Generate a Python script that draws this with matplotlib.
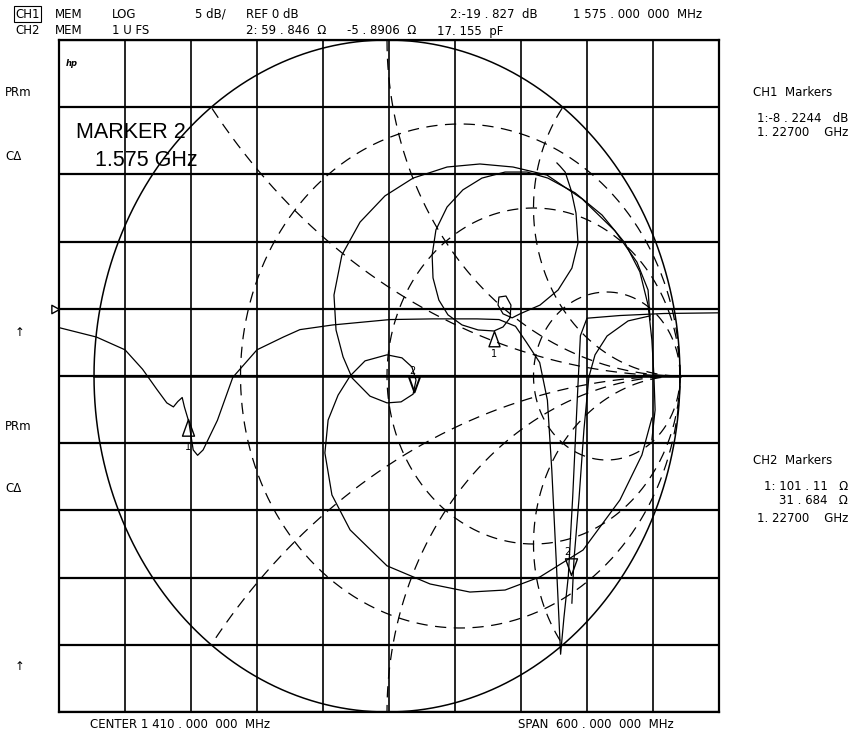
import numpy as np
import matplotlib.pyplot as plt
from matplotlib.path import Path

W, H = 854, 736

# CH1 : S11 log magnitude (MHz, dB)
ch1_freq = [1110, 1144, 1170, 1186, 1199, 1208, 1214, 1218, 1222, 1224, 1228,
            1232, 1236, 1241, 1254, 1268, 1290, 1314, 1329, 1359, 1411, 1450,
            1490, 1510, 1525, 1535, 1547, 1554, 1558, 1562, 1566, 1569, 1573,
            1577, 1581, 1584, 1590, 1620, 1660, 1710]
ch1_db = [-1.4, -2.1, -3.05, -4.5, -6.0, -7.0, -7.3, -6.9, -6.6, -7.3, -8.4,
          -10.5, -10.9, -10.5, -8.3, -5.1, -3.05, -2.1, -1.55, -1.2, -0.8, -0.75,
          -0.75, -0.8, -1.3, -2.5, -4.0, -6.8, -12.0, -18.7, -25.7, -23.0, -19.9,
          -14.0, -7.0, -2.0, -0.7, -0.5, -0.35, -0.3]
ch1_mk_freq = [1227.0, 1575.0]
ch1_mk_db = [-8.2244, -19.827]

# CH2 : S11 on the smith chart, reflection coefficient (re, im)
s2_a_re = [0.580, 0.590, 0.608, 0.628, 0.645, 0.652, 0.631, 0.584, 0.522, 0.454,
           0.427, 0.396, 0.379, 0.382, 0.406, 0.423, 0.420, 0.396, 0.365, 0.311,
           0.256, 0.208, 0.177, 0.157, 0.154, 0.167, 0.205, 0.259, 0.324, 0.403,
           0.478, 0.549, 0.642, 0.734, 0.812, 0.863, 0.891, 0.904, 0.911, 0.915,
           0.904]
s2_a_im = [0.634, 0.625, 0.607, 0.554, 0.485, 0.396, 0.321, 0.256, 0.211, 0.185,
           0.173, 0.185, 0.211, 0.235, 0.238, 0.211, 0.173, 0.146, 0.134, 0.137,
           0.152, 0.182, 0.226, 0.292, 0.360, 0.435, 0.503, 0.554, 0.589, 0.607,
           0.607, 0.589, 0.545, 0.479, 0.396, 0.310, 0.211, 0.107, 0.0, -0.101,
           -0.190]
s2_b_re = [0.898, 0.891, 0.853, 0.778, 0.666, 0.546, 0.430, 0.317, 0.205, 0.089,
           -0.007, -0.092, -0.154, -0.181, -0.174, -0.150, -0.119, -0.058, 0.0,
           0.048, 0.089, 0.099, 0.085, 0.051, 0.0, -0.075, -0.126, -0.167, -0.201,
           -0.212, -0.188, -0.126, 0.0, 0.147, 0.283, 0.403, 0.522, 0.669, 0.795,
           0.870, 0.904]
s2_b_im = [0.167, 0.256, 0.339, 0.432, 0.527, 0.598, 0.622, 0.631, 0.622, 0.589,
           0.536, 0.458, 0.360, 0.241, 0.137, 0.057, -0.006, -0.060, -0.080,
           -0.077, -0.054, -0.012, 0.027, 0.054, 0.063, 0.045, 0.0, -0.057, -0.131,
           -0.229, -0.354, -0.458, -0.565, -0.619, -0.643, -0.637, -0.598, -0.518,
           -0.369, -0.235, -0.125]
s2_c_re = [0.898, 0.823, 0.751, 0.710, 0.689, 0.672, 0.655, 0.638, 0.631]
s2_c_im = [0.179, 0.164, 0.119, 0.063, -0.003, -0.161, -0.369, -0.548, -0.676]

# CH2 marker readouts (ohm)
z0 = 50.0
mk_r = [101.11, 59.846]
mk_x = [31.684, -5.8906]

# smith graticule
r_circles = [1 / 3, 1.0, 3.0]
x_arcs = [0.5, 1.0, 2.0, -0.5, -1.0, -2.0]


def px(x, y):
    # pixel position -> figure fraction
    return x / W, 1 - y / H


def tri(direction):
    # apex at the origin, so the apex sits on the trace
    if direction == 'up':
        v = [(0, 0), (-0.36, -1), (0.36, -1), (0, 0)]
    elif direction == 'down':
        v = [(0, 0), (-0.36, 1), (0.36, 1), (0, 0)]
    else:
        v = [(0, 0), (-1, 0.55), (-1, -0.55), (0, 0)]
    return Path(v, [Path.MOVETO, Path.LINETO, Path.LINETO, Path.CLOSEPOLY])


fig = plt.figure(figsize=(W / 100, H / 100), dpi=100)
box = [59 / W, 1 - 712 / H, 660 / W, 672 / H]

# ---- CH1 grid and trace
ax = fig.add_axes(box)
ax.set_xlim(1110, 1710)
ax.set_ylim(-30, 20)
ax.set_xticks(np.arange(1110, 1711, 60))
ax.set_yticks(np.arange(-30, 21, 5))
ax.tick_params(length=0, labelbottom=False, labelleft=False)
ax.grid(True, color='black', lw=1.2)
ax.yaxis.grid(True, color='black', lw=1.6)
for s in ax.spines.values():
    s.set_linewidth(1.6)
ax.plot(ch1_freq, ch1_db, color='black', lw=0.9)
ax.plot(ch1_mk_freq[0], ch1_mk_db[0], marker=tri('up'), ms=24, mfc='none',
        mec='black', mew=1.0)
ax.plot(ch1_mk_freq[1], ch1_mk_db[1], marker=tri('down'), ms=24, mfc='none',
        mec='black', mew=1.0)
ax.annotate('1', (ch1_mk_freq[0], ch1_mk_db[0]), xytext=(0, -16),
            textcoords='offset points', ha='center', va='top', fontsize=7)
ax.annotate('2', (ch1_mk_freq[1], ch1_mk_db[1]), xytext=(-2, 13),
            textcoords='offset points', ha='center', va='bottom', fontsize=7)
# reference position
ax.plot(1110, 0, marker=tri('right'), ms=11, mfc='none', mec='black',
        mew=1.0, clip_on=False)

# ---- CH2 smith chart
sm = fig.add_axes(box)
sm.set_xlim(-1.1195, 1.1331)
sm.set_ylim(-1, 1)
sm.axis('off')

t = np.linspace(0, 2 * np.pi, 721)
sm.plot(np.cos(t), np.sin(t), color='black', lw=1.1)
sm.plot([-1, 1], [0, 0], color='black', lw=1.8)

dash = dict(color='black', lw=0.9, dashes=(9, 6))
for r in r_circles:
    c, rad = r / (1 + r), 1 / (1 + r)
    sm.plot(c + rad * np.cos(t), rad * np.sin(t), **dash)
for xv in x_arcs:
    rad = 1 / abs(xv)
    gx = 1 + rad * np.cos(t)
    gy = 1 / xv + rad * np.sin(t)
    inside = gx ** 2 + gy ** 2 <= 1.0001
    gx = np.where(inside, gx, np.nan)
    gy = np.where(inside, gy, np.nan)
    # roll so the visible part is one piece
    k = np.argmax(~inside)
    sm.plot(np.roll(gx, -k), np.roll(gy, -k), **dash)

for re, im in [(s2_a_re, s2_a_im), (s2_b_re, s2_b_im), (s2_c_re, s2_c_im)]:
    sm.plot(re, im, color='black', lw=0.9)

z = (np.array(mk_r) + 1j * np.array(mk_x)) / z0
g = (z - 1) / (z + 1)
sm.plot(g[0].real, g[0].imag, marker=tri('up'), ms=22, mfc='none', mec='black',
        mew=1.0)
sm.plot(g[1].real, g[1].imag, marker=tri('down'), ms=22, mfc='none',
        mec='black', mew=1.4)
sm.annotate('1', (g[0].real, g[0].imag), xytext=(0, -13),
            textcoords='offset points', ha='center', va='top', fontsize=7)
sm.annotate('2', (g[1].real, g[1].imag), xytext=(-1, 12),
            textcoords='offset points', ha='center', va='bottom', fontsize=7)

# ---- annotation text
fs = 8.5
fig.text(*px(15, 14), 'CH1', fontsize=fs, va='center',
         bbox=dict(boxstyle='square,pad=0.12', fc='white', ec='black', lw=0.8))
row1 = [(55, 'MEM'), (112, 'LOG'), (195, '5 dB/'), (246, 'REF 0 dB'),
        (450, '2:-19 . 827  dB'), (573, '1 575 . 000  000  MHz')]
row2 = [(15, 'CH2'), (55, 'MEM'), (112, '1 U FS'), (246, '2: 59 . 846  Ω'),
        (347, '-5 . 8906  Ω'), (437, '17. 155  pF')]
for x, s in row1:
    fig.text(*px(x, 14), s, fontsize=fs, va='center')
for x, s in row2:
    fig.text(*px(x, 31), s, fontsize=fs, va='center')

fig.text(*px(753, 92), 'CH1  Markers', fontsize=fs, va='center')
fig.text(*px(848, 119), '1:-8 . 2244   dB', fontsize=fs, va='center', ha='right')
fig.text(*px(848, 133), '1. 22700    GHz', fontsize=fs, va='center', ha='right')
fig.text(*px(753, 460), 'CH2  Markers', fontsize=fs, va='center')
fig.text(*px(848, 486), '1: 101 . 11   Ω', fontsize=fs, va='center', ha='right')
fig.text(*px(848, 501), '31 . 684   Ω', fontsize=fs, va='center', ha='right')
fig.text(*px(848, 519), '1. 22700    GHz', fontsize=fs, va='center', ha='right')

for y, s in [(92, 'PRm'), (156, 'CΔ'), (427, 'PRm'), (489, 'CΔ')]:
    fig.text(*px(5, y), s, fontsize=fs, va='center')
for y in [333, 666]:
    fig.text(*px(20, y), '↑', fontsize=fs, va='center', ha='center')

fig.text(*px(66, 63), 'hp', fontsize=6, va='center', style='italic',
         weight='bold')
fig.text(*px(76, 133), 'MARKER 2', fontsize=15.5, va='center',
         family='Liberation Sans')
fig.text(*px(95, 161), '1.575 GHz', fontsize=15.5, va='center',
         family='Liberation Sans')

fig.text(*px(90, 725), 'CENTER 1 410 . 000  000  MHz', fontsize=fs, va='center')
fig.text(*px(518, 725), 'SPAN  600 . 000  000  MHz', fontsize=fs, va='center')

fig.savefig('out.png', dpi=100, facecolor='white')
